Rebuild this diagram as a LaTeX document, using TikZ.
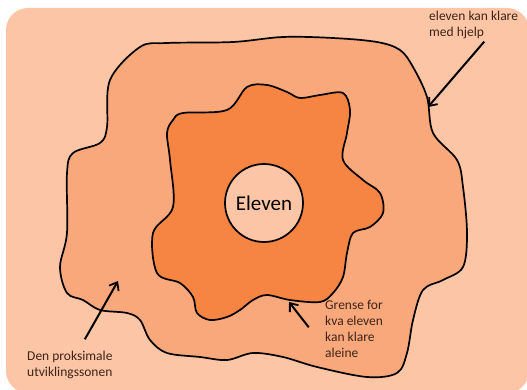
\documentclass[tikz,border=0pt]{standalone}
\usepackage{fontspec}
\setmainfont{Carlito}
\usetikzlibrary{arrows.meta}
\definecolor{sheet}{HTML}{FCC5A6}
\definecolor{zone}{HTML}{F9A87C}
\definecolor{core}{HTML}{F68443}
\definecolor{ink}{HTML}{3E2418}
\tikzset{
  blob/.style={draw=black,line width=1.7pt,line join=round},
  lbl/.style={align=left,text=ink,font=\fontsize{13.5}{16}\selectfont,inner sep=0pt,anchor=north west},
  pil/.style={-{Straight Barb[length=7pt,width=11pt,line width=1.8pt]},line width=2pt,shorten <=2pt}
}
\begin{document}
\begin{tikzpicture}[x=1pt,y=-1pt]
  \useasboundingbox (0,0) rectangle (527,390);
  \fill[white] (0,0) rectangle (527,390);
  \fill[sheet,rounded corners=22pt] (6,8) rectangle (529,393);
  % ytre sone
  \draw[blob,fill=zone] plot[smooth cycle,tension=0.55] coordinates {
    (110,80)(140,47)(167,43)(233,42)(283,37)(333,38)(377,42)(400,50)(413,67)
    (427,97)(433,133)(457,160)(463,187)(467,233)(463,267)(443,280)(423,290)
    (413,320)(407,353)(397,373)(367,377)(317,367)(283,357)(253,353)(227,360)
    (200,357)(167,353)(150,340)(140,320)(127,313)(100,310)(83,300)(67,293)
    (60,267)(67,233)(67,173)(73,153)(100,143)(107,127)};
  % indre sone
  \draw[blob,fill=core] plot[smooth cycle,tension=0.55] coordinates {
    (167,133)(173,120)(183,113)(227,110)(247,87)(267,85)(287,92)(300,98)
    (320,95)(343,93)(350,110)(347,133)(343,160)(363,180)(380,193)(383,213)
    (370,227)(353,233)(347,253)(343,277)(333,293)(320,302)(290,300)(267,295)
    (253,300)(240,310)(227,317)(210,320)(197,313)(193,297)(180,283)(157,273)
    (153,233)(173,207)(170,160)};
  \node[draw=black,line width=1.7pt,circle,fill=sheet,minimum size=78pt,inner sep=0pt,
        text=black,font=\fontsize{21}{21}\selectfont] (elev) at (264,203) {Eleven};

  \node[lbl] (hjelp) at (429,11) {eleven kan klare\\med hjelp};
  \node[lbl] (prox) at (27,351) {Den proksimale\\utviklingssonen};
  \node[lbl] (grense) at (325,300) {Grense for\\kva eleven\\kan klare\\aleine};

  \coordinate (hjelpend) at (428,107);
  \coordinate (proxend) at (118,281);
  \coordinate (grenseend) at (289,302);
  \draw[pil] ([xshift=12pt,yshift=-1pt]hjelp.south) -- (hjelpend);
  \draw[pil] ([xshift=14pt,yshift=10pt]prox.north) -- (proxend);
  \draw[pil] ([xshift=-15pt]grense.west) -- (grenseend);
\end{tikzpicture}
\end{document}
